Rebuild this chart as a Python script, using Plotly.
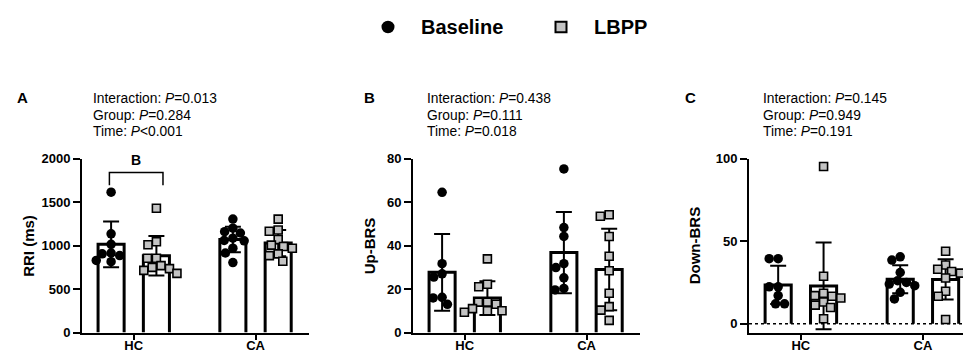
import math
import numpy as np
import plotly.graph_objects as go

W, H = 971, 356

# ---------------- data ----------------
categories = ["HC", "CA"]

rri_hc_base = [1615, 1135, 1015, 915, 905, 885, 830, 815]
rri_hc_lbpp = [1430, 1045, 1010, 855, 855, 770, 750, 735, 715, 680]
rri_ca_base = [1305, 1200, 1160, 1145, 1085, 1060, 1055, 970, 915, 805]
rri_ca_lbpp = [1305, 1180, 1165, 1070, 1005, 990, 970, 905, 885, 820]

up_hc_base = [64.5, 31.7, 27.0, 25.5, 16.2, 15.9, 13.0]
up_hc_lbpp = [33.9, 22.2, 21.1, 14.0, 14.0, 13.0, 11.0, 10.0, 10.0, 9.3]
up_ca_base = [75.3, 48.3, 44.2, 31.7, 29.9, 25.2, 20.3, 19.6]
up_ca_lbpp = [54.2, 53.5, 44.2, 35.1, 28.4, 18.1, 11.9, 10.3, 5.6]

down_hc_base = [39.4, 39.4, 22.3, 22.3, 17.0, 12.0, 12.0]
down_hc_lbpp = [95.3, 28.7, 18.4, 17.0, 16.6, 15.5, 13.1, 11.2, 9.8, 3.0]
down_ca_base = [40.5, 38.5, 31.0, 26.0, 25.0, 24.0, 23.0, 19.0, 15.0]
down_ca_lbpp = [43.9, 35.5, 33.0, 31.6, 30.6, 27.7, 19.6, 16.6, 2.5]

panel_letters = ["A", "B", "C"]
y_titles = ["RRI (ms)", "Up-BRS", "Down-BRS"]
stats_text = [
    ["Interaction: <i>P</i>=0.013", "Group: <i>P</i>=0.284", "Time: <i>P</i><0.001"],
    ["Interaction: <i>P</i>=0.438", "Group: <i>P</i>=0.111", "Time: <i>P</i>=0.018"],
    ["Interaction: <i>P</i>=0.145", "Group: <i>P</i>=0.949", "Time: <i>P</i>=0.191"],
]
y_tickvals = [[0, 500, 1000, 1500, 2000], [0, 20, 40, 60, 80], [0, 50, 100]]
y_ranges = [[0, 2000], [0, 80], [-5.4, 100]]
bracket_label = "B"

panels = [
    dict(base=[rri_hc_base, rri_ca_base], lbpp=[rri_hc_lbpp, rri_ca_lbpp]),
    dict(base=[up_hc_base, up_ca_base], lbpp=[up_hc_lbpp, up_ca_lbpp]),
    dict(base=[down_hc_base, down_ca_base], lbpp=[down_hc_lbpp, down_ca_lbpp]),
]

# ---------------- layout geometry (pixels) ----------------
x_dom_px = [(74, 300.5), (405, 631.5), (741, 968)]
y_top_px, y_bot_px = 150, 331.5
x_range = [-0.425, 1.435]
grp_off = 0.186      # bar centre offset from group centre
bar_half = 0.107     # half bar width (line centre)

BLACK = "black"
GRAY = "#c3c3c3"
FONT = "Liberation Sans, Arial, Helvetica, sans-serif"


def pxx(x):
    return x / W


def pxy(y):
    return 1 - y / H


def swarm(vals, ppx, ppy, d):
    vals = np.asarray(vals, dtype=float)
    order = np.argsort(-vals, kind="stable")
    placed = []
    offs = np.zeros(len(vals))
    for i in order:
        y = vals[i] * ppy
        forb = []
        for (qx, qy) in placed:
            dy = abs(qy - y)
            if dy < d:
                dx = math.sqrt(d * d - dy * dy)
                forb.append((qx - dx, qx + dx))
        cands = [0.0] + [a for a, b in forb] + [b for a, b in forb]
        valid = [c for c in cands if all(not (a + 1e-9 < c < b - 1e-9) for a, b in forb)]
        best = min(valid, key=lambda c: (round(abs(c), 6), c))
        offs[i] = best
        placed.append((best, y))
    return offs / ppx


fig = go.Figure()
layout_axes = {}

for p, pdata in enumerate(panels):
    xa = "x" if p == 0 else f"x{p+1}"
    ya = "y" if p == 0 else f"y{p+1}"
    xd = x_dom_px[p]
    ppx = (xd[1] - xd[0]) / (x_range[1] - x_range[0])
    ppy = (y_bot_px - y_top_px) / (y_ranges[p][1] - y_ranges[p][0])

    # bar outlines (open at bottom)
    bx, by = [], []
    centres, means, sds = [], [], []
    for gi in range(len(categories)):
        for s, series in enumerate([pdata["base"], pdata["lbpp"]]):
            c = gi + (-grp_off if s == 0 else grp_off)
            vals = np.asarray(series[gi], dtype=float)
            m = vals.mean()
            sd = vals.std(ddof=1)
            centres.append(c)
            means.append(m)
            sds.append(sd)
            bx += [c - bar_half, c - bar_half, c + bar_half, c + bar_half, None]
            by += [0, m, m, 0, None]
    fig.add_trace(go.Scatter(x=bx, y=by, mode="lines", xaxis=xa, yaxis=ya,
                             line=dict(color=BLACK, width=3), showlegend=False,
                             hoverinfo="skip"))
    # error bars (mean +/- SD)
    fig.add_trace(go.Scatter(x=centres, y=means, mode="markers", xaxis=xa, yaxis=ya,
                             marker=dict(size=1, color="rgba(0,0,0,0)"),
                             error_y=dict(type="data", array=sds, visible=True,
                                          color=BLACK, thickness=2, width=8),
                             showlegend=False))
    # points
    for s, series in enumerate([pdata["base"], pdata["lbpp"]]):
        xs, ys = [], []
        for gi in range(len(categories)):
            c = gi + (-grp_off if s == 0 else grp_off)
            offs = swarm(series[gi], ppx, ppy, 9.0)
            xs += list(c + offs)
            ys += list(series[gi])
        if s == 0:
            mk = dict(symbol="circle", size=9.5, color=BLACK, line=dict(width=0))
        else:
            mk = dict(symbol="square", size=8, color=GRAY, line=dict(width=1.6, color=BLACK))
        fig.add_trace(go.Scatter(x=xs, y=ys, mode="markers", xaxis=xa, yaxis=ya,
                                 marker=mk, showlegend=False))

    key = "" if p == 0 else str(p + 1)
    layout_axes[f"xaxis{key}"] = dict(
        domain=[pxx(xd[0]), pxx(xd[1])], range=x_range, anchor=ya,
        tickvals=[0, 1], ticktext=categories, showline=True, linewidth=2,
        linecolor=BLACK, ticks="outside", ticklen=5, tickwidth=2, tickcolor=BLACK,
        ticklabelstandoff=-5,
        showgrid=False, zeroline=False, fixedrange=True,
        tickfont=dict(family=FONT, size=13, color=BLACK, weight="bold"))
    layout_axes[f"yaxis{key}"] = dict(
        domain=[pxy(y_bot_px), pxy(y_top_px)], range=y_ranges[p], anchor=xa,
        tickvals=y_tickvals[p], showline=True, linewidth=2, linecolor=BLACK,
        ticks="outside", ticklen=7, tickwidth=2, tickcolor=BLACK,
        showgrid=False, zeroline=False, fixedrange=True,
        tickfont=dict(family=FONT, size=13, color=BLACK, weight="bold"))

fig.update_layout(**layout_axes)

annotations = []
shapes = []

letter_x = [14, 361, 682]
text_x = [82.7, 417.3, 752.7]
ytitle_x = [21, 361.5, 686.5]
text_y = [87.4, 104.5, 121.6]
for p in range(3):
    annotations.append(dict(text=f"<b>{panel_letters[p]}</b>", xref="paper", yref="paper",
                            x=pxx(letter_x[p]), y=pxy(86), xanchor="center", yanchor="middle",
                            showarrow=False, font=dict(family=FONT, size=15, color=BLACK)))
    for li, t in enumerate(stats_text[p]):
        annotations.append(dict(text=t, xref="paper", yref="paper",
                                x=pxx(text_x[p]), y=pxy(text_y[li]), xanchor="left",
                                yanchor="middle", showarrow=False,
                                font=dict(family=FONT, size=13.8, color=BLACK)))
    annotations.append(dict(text=f"<b>{y_titles[p]}</b>", xref="paper", yref="paper",
                            x=pxx(ytitle_x[p]), y=pxy(241), xanchor="center", yanchor="middle",
                            textangle=-90, showarrow=False,
                            font=dict(family=FONT, size=15, color=BLACK)))

# significance bracket in panel A
shapes.append(dict(type="path", xref="x", yref="y",
                   path="M -0.2,1695 L -0.2,1842 L 0.24,1842 L 0.24,1695",
                   line=dict(color=BLACK, width=1.5)))
annotations.append(dict(text=f"<b>{bracket_label}</b>", xref="x", yref="y", x=0.02, y=1990,
                        xanchor="center", yanchor="middle", showarrow=False,
                        font=dict(family=FONT, size=14, color=BLACK)))

# dotted zero line in panel C
shapes.append(dict(type="line", xref="x3 domain", yref="y3", x0=0, x1=1, y0=0, y1=0,
                   line=dict(color=BLACK, width=1.5, dash="dot"), layer="above"))

# legend
cx, cy, r = 380, 12.5, 6.5
shapes.append(dict(type="circle", xref="paper", yref="paper",
                   x0=pxx(cx - r), x1=pxx(cx + r), y0=pxy(cy + r), y1=pxy(cy - r),
                   fillcolor=BLACK, line=dict(color=BLACK, width=0)))
sx, hs = 553, 5.5
shapes.append(dict(type="rect", xref="paper", yref="paper",
                   x0=pxx(sx - hs), x1=pxx(sx + hs), y0=pxy(cy + hs), y1=pxy(cy - hs),
                   fillcolor=GRAY, line=dict(color=BLACK, width=2)))
annotations.append(dict(text="<b>Baseline</b>", xref="paper", yref="paper", x=pxx(411),
                        y=pxy(cy), xanchor="left", yanchor="middle", showarrow=False,
                        font=dict(family=FONT, size=20, color=BLACK)))
annotations.append(dict(text="<b>LBPP</b>", xref="paper", yref="paper", x=pxx(584),
                        y=pxy(cy), xanchor="left", yanchor="middle", showarrow=False,
                        font=dict(family=FONT, size=20, color=BLACK)))

fig.update_layout(width=W, height=H, margin=dict(l=0, r=0, t=0, b=0),
                  paper_bgcolor="white", plot_bgcolor="white", showlegend=False,
                  annotations=annotations, shapes=shapes,
                  font=dict(family=FONT, color=BLACK))

fig.write_html("out.html")
